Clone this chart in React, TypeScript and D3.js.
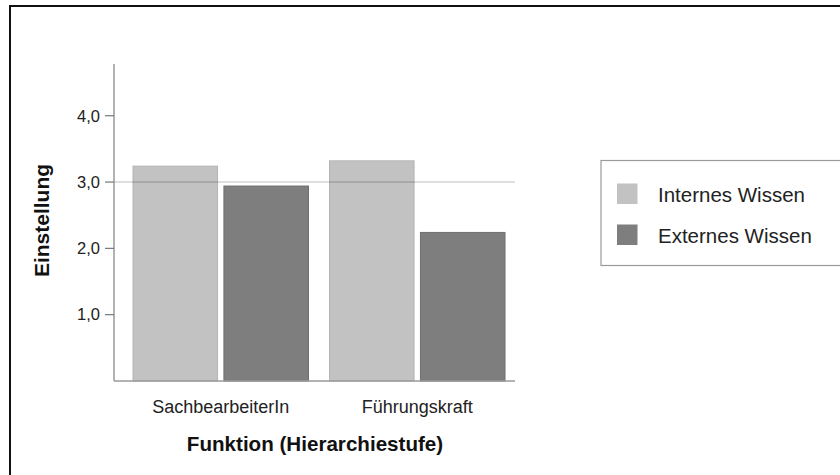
import React from "react";
import * as d3 from "d3";

const categories = ["SachbearbeiterIn", "Führungskraft"];
const seriesNames = ["Internes Wissen", "Externes Wissen"];
const internesWissen = [3.24, 3.32];
const externesWissen = [2.94, 2.24];
const yTicks = [1, 2, 3, 4];
const gridValues = [3];

const seriesValues = [internesWissen, externesWissen];
const seriesFill = ["#c2c2c2", "#7e7e7e"];
const seriesStroke = ["#b4b4b4", "#6f6f6f"];

const W = 840;
const H = 475;
const FONT = "'Liberation Sans', Arial, Helvetica, sans-serif";

export default function App() {
  const axisX = 114;
  const axisRight = 515;
  const y = d3.scaleLinear().domain([0, 4.78]).range([381, 64]);
  const x0 = d3
    .scaleBand<string>()
    .domain(categories)
    .range([133, 505])
    .paddingInner(0.107)
    .paddingOuter(0);
  const x1 = d3
    .scaleBand<string>()
    .domain(seriesNames)
    .range([0, x0.bandwidth()])
    .paddingInner(0.07);
  const fmt = (v: number) => d3.format(".1f")(v).replace(".", ",");

  return (
    <svg
      width={W}
      height={H}
      style={{ position: "absolute", left: 0, top: 0, background: "#fff" }}
      fontFamily={FONT}
    >
      {/* outer frame */}
      <path d={`M10,${H} V6 H${W}`} fill="none" stroke="#111" strokeWidth={2} />

      {/* bars */}
      {categories.map((c, ci) =>
        seriesNames.map((s, si) => {
          const v = seriesValues[si][ci];
          const bx = (x0(c) ?? 0) + (x1(s) ?? 0);
          return (
            <rect
              key={c + s}
              x={bx}
              y={y(v)}
              width={x1.bandwidth()}
              height={y(0) - y(v)}
              fill={seriesFill[si]}
              stroke={seriesStroke[si]}
              strokeWidth={1}
            />
          );
        })
      )}

      {/* reference line */}
      {gridValues.map((g) => (
        <line
          key={g}
          x1={axisX}
          x2={axisRight}
          y1={y(g)}
          y2={y(g)}
          stroke="#000"
          strokeOpacity={0.17}
          strokeWidth={1.5}
        />
      ))}

      {/* y axis */}
      <line x1={axisX} x2={axisX} y1={y.range()[1]} y2={y(0)} stroke="#9a9a9a" strokeWidth={1.5} />
      {yTicks.map((t) => (
        <g key={t}>
          <line x1={axisX - 9} x2={axisX} y1={y(t)} y2={y(t)} stroke="#777" strokeWidth={1.2} />
          <text
            x={axisX - 14}
            y={y(t)}
            dy="0.35em"
            textAnchor="end"
            fontSize={16.5}
            fill="#222"
          >
            {fmt(t)}
          </text>
        </g>
      ))}

      {/* x axis */}
      <line x1={axisX} x2={axisRight} y1={y(0)} y2={y(0)} stroke="#9a9a9a" strokeWidth={1.5} />
      {categories.map((c) => (
        <text
          key={c}
          x={(x0(c) ?? 0) + x0.bandwidth() / 2}
          y={412.5}
          textAnchor="middle"
          fontSize={18}
          fill="#222"
        >
          {c}
        </text>
      ))}

      {/* axis titles */}
      <text x={315} y={450.5} textAnchor="middle" fontSize={20.6} fontWeight="bold" fill="#111">
        Funktion (Hierarchiestufe)
      </text>
      <text
        transform="translate(48.5,220.5) rotate(-90)"
        textAnchor="middle"
        fontSize={21}
        fontWeight="bold"
        fill="#111"
      >
        Einstellung
      </text>

      {/* legend */}
      <rect x={601} y={160.5} width={W} height={105} fill="#fff" stroke="#9a9a9a" strokeWidth={1.2} />
      {seriesNames.map((s, i) => (
        <g key={s} transform={`translate(617,${183.5 + i * 41})`}>
          <rect width={20.5} height={20.5} fill={seriesFill[i]} />
          <text x={41} y={18.5} fontSize={20.5} fill="#222">
            {s}
          </text>
        </g>
      ))}
    </svg>
  );
}
